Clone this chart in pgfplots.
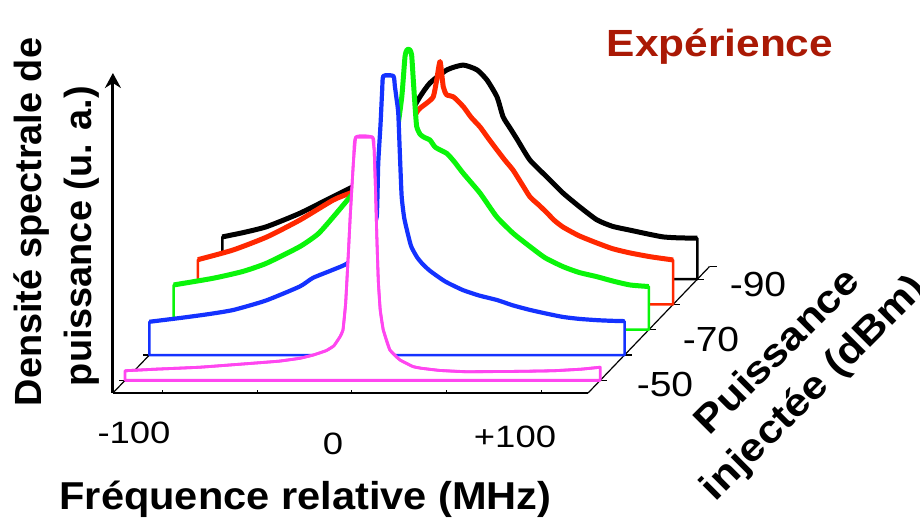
\documentclass[border=0pt]{standalone}
\usepackage{pgfplots}
\pgfplotsset{compat=1.18}
\usepackage{pgfplotstable}
\usepackage{fontspec}
\setmainfont{Liberation Sans}
\usetikzlibrary{arrows.meta}

\definecolor{cblack}{RGB}{0,0,0}
\definecolor{cred}{RGB}{255,40,0}
\definecolor{cgreen}{RGB}{10,245,10}
\definecolor{cblue}{RGB}{20,50,255}
\definecolor{cpink}{RGB}{255,70,240}
\definecolor{ctitle}{RGB}{170,25,5}

% spectra: f = relative frequency (MHz), z = PSD (a.u.)
\pgfplotstableread{
f z
-126.5 0
-126.5 13.2
-115 14.6
-103 16.4
-85.4 20.6
-67.8 25.8
-57.2 28.9
-48.3 31.6
-40.4 35.7
-32.5 41.9
-27.2 51.3
-21.9 57
-16.6 61.3
-7.6 65.4
0.9 66.9
8.3 65.4
13.6 62.2
18.9 56.9
22.1 50.7
26 47
29.7 43.5
36.3 37.2
45.3 31.9
53.8 26.9
62.8 22.5
71.8 18.5
80 16.5
89.3 15.3
98 14.2
106.7 13.2
115 12.9
124.9 12.8
124.9 0
}\tblblack

\pgfplotstableread{
f z
-126.5 0
-126.5 14
-108 17
-90 21.1
-72.5 26.4
-55 32.6
-46 34.8
-35.5 37.3
-27.5 42
-19.6 48.3
-14.3 56.1
-9.9 60.8
-5.5 62.9
-2 64.9
-0.2 70.1
1.6 75.9
3.3 68
5.1 65.5
8.6 64.9
13.9 61.8
18 58.5
22.7 55.5
27 52
31.7 48.3
36 45
40.2 42
45 37.5
49.2 33.6
54 31
58.2 28.6
62 26.3
66.6 24.2
75 21.5
84.6 19.2
93 17.4
102.1 16.1
113 14.9
124.9 13.9
124.9 0
}\tblred

\pgfplotstableread{
f z
-126.5 0
-126.5 14.0
-105.5 16.1
-90 18.2
-77.3 20.8
-59.7 26
-50 30
-42 35.3
-31.5 42.6
-19.1 49.9
-12 56
-8.5 61.5
-5.8 72.8
-4.1 85.3
-3.0 87.5
-1.6 87.5
-0.6 85.9
0.3 78
1.2 70
2.1 63.5
4 61
6.5 60
9.1 59.3
12 57
18 55.1
22 52.5
26.7 48.9
35.6 42.7
44.4 35.3
53.2 30.1
62 26
70 22.5
79.6 19.7
88 17.9
97.3 16.6
106 15.2
114.9 14
124.9 13.5
124.9 0
}\tblgreen

\pgfplotstableread{
f z
-126.5 0
-126.5 10.4
-110 11.6
-95 12.8
-82 14.1
-65 17
-47 21.4
-40 24.1
-30 26.5
-21.4 28.8
-14 34.4
-8.7 40.6
-6.2 43.2
-5.4 59.9
-4.2 72
-3.3 83
-2.7 87.2
2.6 87.2
3.4 84
4.3 80
5.2 75.5
6.1 62
7.0 49.5
8.3 43
9.8 39
12 34
15.1 30.6
18 28.5
22 26.3
30 23
39.4 20.3
48 18.6
57.4 17.2
66 15.5
74.9 14.1
84 12.9
92.4 11.9
101 11.3
110.4 10.9
118 10.7
124.9 10.6
124.9 0
}\tblblue

\pgfplotstableread{
f z
-126.5 0
-126.5 3.0
-110 3.5
-87 4.1
-60 5.3
-45 6.0
-34 6.9
-27 7.9
-20 9.3
-16 10.8
-12.8 13.6
-11.2 15.7
-9.8 24
-8.5 38
-7.3 52
-5.7 68
-4.5 76
4.5 76
5.3 72
6.0 60
6.7 45
7.5 31
8.5 22
10.1 15.8
13.6 9.5
18.9 6.4
25.8 4.3
30 3.8
40 3.1
54 2.7
80 2.8
100 3.0
115 3.5
124.9 4.1
124.9 0
}\tblpink

\pgfplotsset{
    plate/.style={draw=#1, fill=white, line width=2.5bp, line join=round},
    trace/.style={draw=#1, line width=5bp, line join=round, smooth, tension=0.35,
        restrict z to domain=0.5:200},
}

\begin{document}
\begin{tikzpicture}
\begin{axis}[
    x={(1.89bp,0bp)}, y={(-2.43bp,-2.53bp)}, z={(0bp,3.2bp)},
    xmin=-127, xmax=125, ymin=-96, ymax=-44, zmin=0, zmax=100,
    hide axis, clip=false,
]
% frame behind the spectra
\draw[line width=1.2bp] (axis cs:-126.5,-45,0) -- (axis cs:-126.5,-95,0);
\draw[line width=1.2bp] (axis cs:124.9,-45,0) -- (axis cs:124.9,-95,0);
\draw[line width=1.2bp] (axis cs:-126.5,-50,0) -- ([xshift=-6bp]axis cs:-126.5,-50,0);
\draw[line width=1.2bp] (axis cs:-126.5,-60,0) -- ([xshift=-6bp]axis cs:-126.5,-60,0);
\draw[line width=1.2bp] (axis cs:-126.5,-70,0) -- ([xshift=-6bp]axis cs:-126.5,-70,0);
\draw[line width=1.2bp] (axis cs:-126.5,-80,0) -- ([xshift=-6bp]axis cs:-126.5,-80,0);
\draw[line width=1.2bp] (axis cs:-126.5,-90,0) -- ([xshift=-6bp]axis cs:-126.5,-90,0);
\draw[line width=1.2bp] (axis cs:124.9,-50,0) -- ([xshift=7bp]axis cs:124.9,-50,0);
\draw[line width=1.2bp] (axis cs:124.9,-60,0) -- ([xshift=7bp]axis cs:124.9,-60,0);
\draw[line width=1.2bp] (axis cs:124.9,-70,0) -- ([xshift=7bp]axis cs:124.9,-70,0);
\draw[line width=1.2bp] (axis cs:124.9,-80,0) -- ([xshift=7bp]axis cs:124.9,-80,0);
\draw[line width=1.2bp] (axis cs:124.9,-90,0) -- ([xshift=7bp]axis cs:124.9,-90,0);
\draw[line width=1.2bp] (axis cs:124.9,-95,0) -- ([xshift=7bp]axis cs:124.9,-95,0);

% back to front: -90, -80, -70, -60, -50 dBm
\addplot3[plate=cblack] table[x=f, y expr=-90, z=z]{\tblblack} -- cycle;
\addplot3[trace=cblack] table[x=f, y expr=-90, z=z]{\tblblack};

\addplot3[plate=cred] table[x=f, y expr=-80, z=z]{\tblred} -- cycle;
\addplot3[trace=cred] table[x=f, y expr=-80, z=z]{\tblred};

\addplot3[plate=cgreen] table[x=f, y expr=-70, z=z]{\tblgreen} -- cycle;
\addplot3[trace=cgreen] table[x=f, y expr=-70, z=z]{\tblgreen};

\addplot3[plate=cblue] table[x=f, y expr=-60, z=z]{\tblblue} -- cycle;
\addplot3[trace=cblue, line width=4.2bp] table[x=f, y expr=-60, z=z]{\tblblue};

\addplot3[plate=cpink, line width=2.8bp] table[x=f, y expr=-50, z=z]{\tblpink} -- cycle;
\addplot3[trace=cpink, line width=2.8bp] table[x=f, y expr=-50, z=z]{\tblpink};

% front edge, ticks and vertical arrow
\draw[line width=1.2bp] (axis cs:-126.5,-45,0) -- (axis cs:124.9,-45,0);
\draw[line width=1bp] (axis cs:-100,-45,0) -- ([yshift=3bp]axis cs:-100,-45,0);
\draw[line width=1bp] (axis cs:-50,-45,0) -- ([yshift=3bp]axis cs:-50,-45,0);
\draw[line width=1bp] (axis cs:0,-45,0) -- ([yshift=3bp]axis cs:0,-45,0);
\draw[line width=1bp] (axis cs:50,-45,0) -- ([yshift=3bp]axis cs:50,-45,0);
\draw[line width=1bp] (axis cs:100,-45,0) -- ([yshift=3bp]axis cs:100,-45,0);
\draw[line width=3bp, -{Stealth[length=15bp, width=16bp, inset=5bp]}]
    (axis cs:-126.5,-45,0) -- (axis cs:-126.5,-45,100);

\coordinate (P0) at (axis cs:-186.243,-45,122.8125);
\end{axis}

\pgfresetboundingbox
\path[use as bounding box] (P0) rectangle ++(920bp,-518bp);

\begin{scope}[shift={(P0)}, x=1bp, y=-1bp]
\node[anchor=base, rotate=90, inner sep=0] at (42,222)
    {\fontsize{38}{44}\selectfont\bfseries Densité spectrale de};
\node[anchor=base, rotate=90, inner sep=0] at (92,236)
    {\fontsize{38}{44}\selectfont\bfseries puissance (u. a.)};

\node[anchor=base, inner sep=0] at (134,443.3)
    {\fontsize{31}{36}\selectfont\scalebox{1.18}[1]{-100}};
\node[anchor=base, inner sep=0] at (333,455)
    {\fontsize{31}{36}\selectfont\scalebox{1.18}[1]{0}};
\node[anchor=base, inner sep=0] at (515,448)
    {\fontsize{31}{36}\selectfont\scalebox{1.18}[1]{+100}};

\node[anchor=base, inner sep=0] at (305.5,510)
    {\fontsize{39}{44}\selectfont\bfseries\scalebox{1.07}[1]{Fréquence relative (MHz)}};

\node[anchor=base, inner sep=0, text=ctitle] at (720,57)
    {\fontsize{38}{44}\selectfont\bfseries\scalebox{1.12}[1]{Expérience}};

\node[anchor=base, inner sep=0] at (665,397) {\fontsize{35}{40}\selectfont\scalebox{1.12}[1]{-50}};
\node[anchor=base, inner sep=0] at (711,352) {\fontsize{35}{40}\selectfont\scalebox{1.12}[1]{-70}};
\node[anchor=base, inner sep=0] at (758,297) {\fontsize{35}{40}\selectfont\scalebox{1.12}[1]{-90}};

\node[anchor=base, rotate=45, inner sep=0] at (786,360)
    {\fontsize{39}{44}\selectfont\bfseries\scalebox{1.12}[1]{Puissance}};
\node[anchor=base, rotate=45, inner sep=0] at (822,396)
    {\fontsize{39}{44}\selectfont\bfseries\scalebox{1.12}[1]{injectée (dBm)}};
\end{scope}
\end{tikzpicture}
\end{document}
